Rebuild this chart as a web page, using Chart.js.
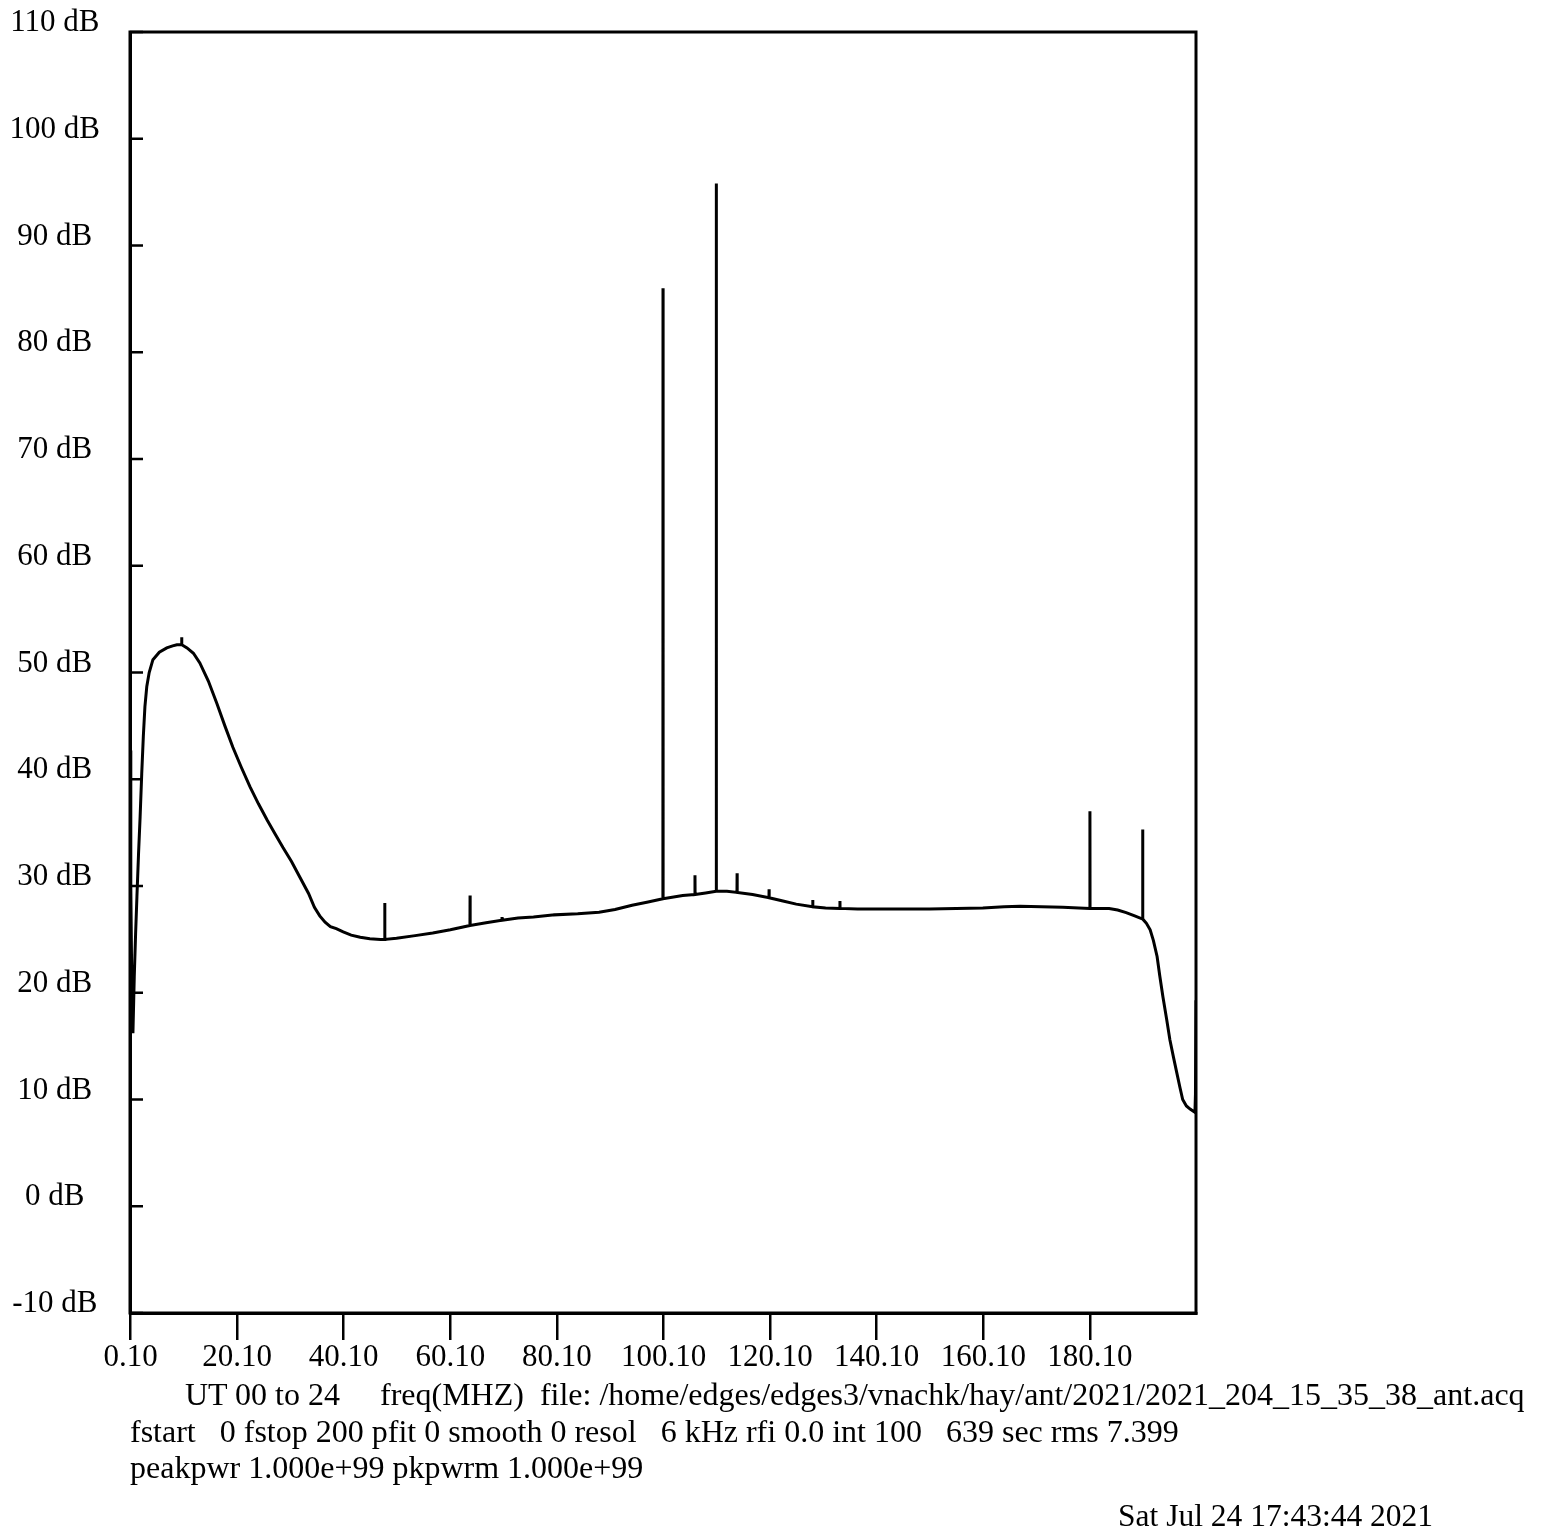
<!DOCTYPE html>
<html>
<head>
<meta charset="utf-8">
<script src="https://cdn.jsdelivr.net/npm/chart.js@4.4.0/dist/chart.umd.min.js"></script>
<style>
body { margin: 0; background: #fff; }
#wrap { position: relative; width: 1554px; height: 1531px; }
#specChart { position: absolute; left: 0; top: 0; }
.t { position: absolute; font: 32px "Liberation Serif", "Times New Roman", serif; line-height: 32px; white-space: pre; color: #000; }
</style>
</head>
<body>
<div id="wrap">
<canvas id="specChart" width="1554" height="1531"></canvas>
<div class="t" style="left:185px;top:1378px">UT 00 to 24     freq(MHZ)  file: /home/edges/edges3/vnachk/hay/ant/2021/2021_204_15_35_38_ant.acq</div>
<div class="t" style="left:130px;top:1415px">fstart   0 fstop 200 pfit 0 smooth 0 resol   6 kHz rfi 0.0 int 100   639 sec rms 7.399</div>
<div class="t" style="left:130px;top:1451px">peakpwr 1.000e+99 pkpwrm 1.000e+99</div>
<div class="t" style="left:1118px;top:1500px;font-size:31.5px">Sat Jul 24 17:43:44 2021</div>
</div>
<script>
// frequency (MHz) and power (dB)
var freqs = [0, 0.15, 0.35, 0.55, 0.8, 1.05, 1.3, 1.6, 1.9, 2.2, 2.5, 2.8, 3.15, 3.6, 4.3, 5.5, 6.9, 8.0, 8.8,
  9.68, 9.7, 9.72, 10.7, 11.9, 13.1, 14.7, 16.3, 17.8, 19.3, 20.9, 22.5, 24.1, 25.7, 27.2, 28.7, 30.3, 31.9,
  33.5, 34.6, 35.6, 36.6, 37.6, 38.7, 40.0, 41.5, 43.2, 45.0, 47.0, 47.78, 47.8, 47.82, 50.0, 53.5, 56.8, 60.1,
  63.78, 63.8, 63.82, 66.8, 69.78, 69.8, 69.82, 72.8, 75.7, 79.68, 79.7, 79.72, 84.0, 88.0, 91.0, 94.2, 97.2,
  99.98, 100.0, 100.02, 103.7, 105.98, 106.0, 106.02, 108.0, 109.98, 110.0, 110.02, 112.0, 113.88, 113.9, 113.92,
  116.8, 119.88, 119.9, 119.92, 122.5, 125.0, 128.08, 128.1, 128.12, 130.5, 133.18, 133.2, 133.22, 136.5,
  140, 145, 150, 155, 160, 164, 167, 171, 175, 178, 180.08, 180.1, 180.12, 182, 183.7, 185.3, 186.9, 188.5,
  189.98, 190, 190.02, 190.7, 191.4, 192.0, 192.7, 193.2, 193.8, 194.5, 195.1, 195.8, 196.4, 197.0, 197.5,
  198.2, 198.9, 199.5, 199.8, 199.9, 200];
var power = [42.7, 30.0, 20.0, 16.2, 21.5, 25.5, 29.0, 33.0, 36.5, 40.5, 44.0, 46.8, 48.7, 50.0, 51.2, 51.9, 52.3, 52.5, 52.6,
  52.6, 53.3, 52.6, 52.3, 51.8, 50.9, 49.2, 47.1, 45.0, 43.0, 41.1, 39.3, 37.7, 36.2, 34.9, 33.6, 32.3, 30.8,
  29.3, 28.0, 27.2, 26.6, 26.2, 26.0, 25.7, 25.4, 25.2, 25.05, 25.0, 25.0, 28.4, 25.0, 25.1, 25.35, 25.6, 25.9,
  26.3, 29.1, 26.3, 26.55, 26.8, 27.1, 26.8, 27.0, 27.1, 27.3, 27.45, 27.3, 27.4, 27.55, 27.8, 28.2, 28.5,
  28.8, 86.0, 28.8, 29.1, 29.2, 31.0, 29.2, 29.35, 29.5, 95.8, 29.5, 29.5, 29.4, 31.2, 29.4,
  29.2, 28.9, 29.7, 28.9, 28.6, 28.3, 28.05, 28.7, 28.05, 27.95, 27.9, 28.6, 27.9, 27.85,
  27.85, 27.85, 27.85, 27.9, 27.95, 28.05, 28.1, 28.05, 28.0, 27.95, 27.9, 37.0, 27.9, 27.9, 27.9, 27.75, 27.5, 27.2,
  26.9, 35.3, 26.9, 26.5, 25.9, 24.9, 23.4, 21.6, 19.6, 17.5, 15.6, 13.9, 12.5, 11.1, 10.0,
  9.4, 9.1, 8.9, 8.8, 10.5, 19.3];

var xTicks = [0.1, 20.1, 40.1, 60.1, 80.1, 100.1, 120.1, 140.1, 160.1, 180.1];
var yTicks = [-10, 0, 10, 20, 30, 40, 50, 60, 70, 80, 90, 100, 110];

var serif = '"Liberation Serif", "Times New Roman", serif';

// box round the plot and the short inward ticks on the left
var framePlugin = {
  id: 'frame',
  afterDraw: function(chart) {
    var a = chart.chartArea;
    var c = chart.ctx;
    var ys = chart.scales.y;
    c.save();
    c.strokeStyle = '#000';
    c.lineWidth = 3;
    c.strokeRect(a.left, a.top, a.right - a.left, a.bottom - a.top);
    c.lineWidth = 2.5;
    c.beginPath();
    yTicks.forEach(function(v) {
      var py = ys.getPixelForValue(v);
      c.moveTo(a.left, py);
      c.lineTo(a.left + 13, py);
    });
    c.stroke();
    c.restore();
  }
};

var ctx = document.getElementById('specChart').getContext('2d');
var specChart = new Chart(ctx, {
  type: 'line',
  data: {
    datasets: [{
      data: freqs.map(function(f, i) { return { x: f, y: power[i] }; }),
      borderColor: '#000',
      borderWidth: 3,
      pointRadius: 0,
      tension: 0,
      fill: false
    }]
  },
  options: {
    responsive: false,
    animation: false,
    devicePixelRatio: 1,
    layout: { autoPadding: false, padding: { top: 32, right: 358, bottom: 158, left: 0 } },
    plugins: { legend: { display: false }, tooltip: { enabled: false } },
    scales: {
      x: {
        type: 'linear',
        min: 0,
        max: 200,
        afterBuildTicks: function(s) { s.ticks = xTicks.map(function(v) { return { value: v }; }); },
        afterFit: function(s) { s.height = 60; },
        grid: { display: true, drawOnChartArea: false, drawTicks: true, tickLength: 27, color: '#000', lineWidth: 2.5 },
        border: { display: true, color: '#000', width: 3 },
        ticks: {
          autoSkip: false,
          maxRotation: 0,
          padding: 2,
          color: '#000',
          font: { family: serif, size: 31, lineHeight: 1 },
          callback: function(v) { return Number(v).toFixed(2); }
        }
      },
      y: {
        min: -10,
        max: 110,
        afterFit: function(s) { s.width = 130; },
        // tick length only spaces the labels; the marks themselves are drawn inward by the plugin
        grid: { display: false, drawTicks: true, tickLength: 30 },
        border: { display: true, color: '#000', width: 3 },
        ticks: {
          stepSize: 10,
          crossAlign: 'center',
          padding: 0,
          labelOffset: -9,
          color: '#000',
          font: { family: serif, size: 31, lineHeight: 1 },
          callback: function(v) { return v + ' dB'; }
        }
      }
    }
  },
  plugins: [framePlugin]
});
</script>
</body>
</html>
